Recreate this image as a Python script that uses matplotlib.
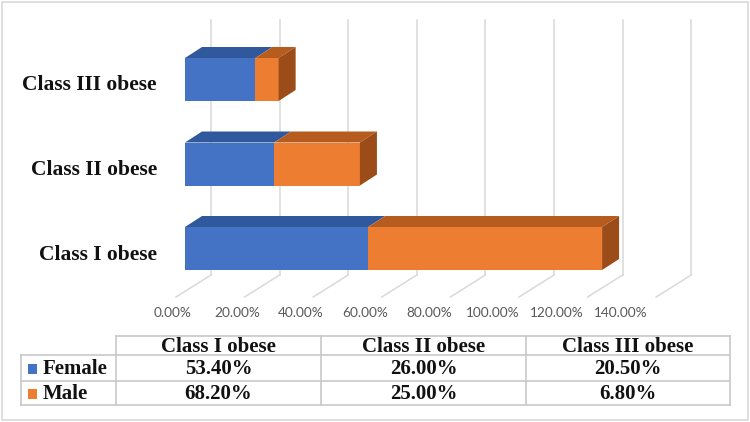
import numpy as np
import matplotlib
matplotlib.use("Agg")
import matplotlib.pyplot as plt
from matplotlib.patches import Polygon, Rectangle

# -----------------------------------------------------------------------------
# datos
# -----------------------------------------------------------------------------
categories = ["Class I obese", "Class II obese", "Class III obese"]
series = ["Female", "Male"]
female = [53.40, 26.00, 20.50]
male = [68.20, 25.00, 6.80]
ticks = [0, 20, 40, 60, 80, 100, 120, 140]

front_colors = ["#4472C4", "#ED7D31"]
top_colors = ["#30589C", "#B75C1F"]
side_colors = ["#2A4B85", "#9B4C18"]

W, H = 750, 422
fig = plt.figure(figsize=(W / 100, H / 100), dpi=100)

# marco exterior
fig.patches.append(Rectangle((2 / W, 2 / H), 746 / W, 418 / H, transform=fig.transFigure,
                             fill=False, edgecolor="#d9d9d9", linewidth=1.2))

# -----------------------------------------------------------------------------
# grafico de barras "3D"
# -----------------------------------------------------------------------------
px_per_pct = 3.43
x0_px = 185
ax = fig.add_axes([0, (H - 330) / H, 1, 330 / H])
ax.set_xlim(-x0_px / px_per_pct, (W - x0_px) / px_per_pct)
row_px = 84.5
yc0_px = 248.5
ax.set_ylim((yc0_px - 330) / row_px, yc0_px / row_px)
ax.axis("off")

dx = 17 / px_per_pct          # profundidad de la barra
dy = 11 / row_px
half_h = 21.5 / row_px
back_dx = 26 / px_per_pct     # pared del fondo
front_dx = -9 / px_per_pct
y_floor_back = (yc0_px - 275) / row_px
y_floor_front = (yc0_px - 297) / row_px
y_grid_top = (yc0_px - 20) / row_px
label_shift = 6 / row_px

for v in ticks:
    ax.plot([v + back_dx, v + back_dx], [y_floor_back, y_grid_top], color="#d9d9d9", lw=1.1, zorder=1)
    ax.plot([v + front_dx, v + back_dx], [y_floor_front, y_floor_back], color="#d9d9d9", lw=1.1, zorder=1)
    ax.text(-3.5 + 0.933 * v, (yc0_px - 313) / row_px, f"{v:.2f}%", ha="center", va="center",
            fontsize=9.8, color="#595959", family="Lato")

for i, cat in enumerate(categories):
    yb, yt = i - half_h, i + half_h
    left = 0
    vals = [female[i], male[i]]
    for s, val in enumerate(vals):
        right = left + val
        ax.add_patch(Rectangle((left, yb), val, yt - yb, facecolor=front_colors[s], edgecolor="none", zorder=3))
        ax.add_patch(Polygon([(left, yt), (right, yt), (right + dx, yt + dy), (left + dx, yt + dy)],
                             closed=True, facecolor=top_colors[s], edgecolor="none", zorder=3))
        left = right
    ax.add_patch(Polygon([(left, yb), (left, yt), (left + dx, yt + dy), (left + dx, yb + dy)],
                         closed=True, facecolor=side_colors[1], edgecolor="none", zorder=3))
    ax.text((157 - x0_px) / px_per_pct, i - label_shift, cat, ha="right", va="center", fontsize=15.5,
            family="Liberation Serif", fontweight="bold", color="#111111")

# -----------------------------------------------------------------------------
# tabla de datos
# -----------------------------------------------------------------------------
tab = fig.add_axes([21 / W, (H - 405) / H, 709 / W, 69 / H])
col_edges = [0, 95, 300, 505, 709]
row_edges = [0, 19, 45, 69]
tab.set_xlim(0, 709)
tab.set_ylim(69, 0)
tab.axis("off")
gc = "#c8c8c8"
tab.plot([95, 709], [0, 0], color=gc, lw=1.2, clip_on=False)
for y in row_edges[1:]:
    tab.plot([0, 709], [y, y], color=gc, lw=1.2, clip_on=False)
tab.plot([0, 0], [19, 69], color=gc, lw=1.2, clip_on=False)
for x in col_edges[1:]:
    tab.plot([x, x], [0, 69], color=gc, lw=1.2, clip_on=False)

tfont = dict(family="Liberation Serif", fontweight="bold", fontsize=15, color="#111111")
for j, cat in enumerate(categories):
    xc = (col_edges[j + 1] + col_edges[j + 2]) / 2
    tab.text(xc, (row_edges[0] + row_edges[1]) / 2 + 1, cat, ha="center", va="center", **tfont)
for s, name in enumerate(series):
    yc = (row_edges[s + 1] + row_edges[s + 2]) / 2 + 1
    tab.add_patch(Rectangle((7, yc - 5), 9, 10, facecolor=front_colors[s], edgecolor="none"))
    tab.text(22, yc, name, ha="left", va="center", **tfont)
    vals = female if s == 0 else male
    for j, v in enumerate(vals):
        xc = (col_edges[j + 1] + col_edges[j + 2]) / 2
        tab.text(xc, yc, f"{v:.2f}%", ha="center", va="center", **tfont)

fig.savefig("out.png", dpi=100)
